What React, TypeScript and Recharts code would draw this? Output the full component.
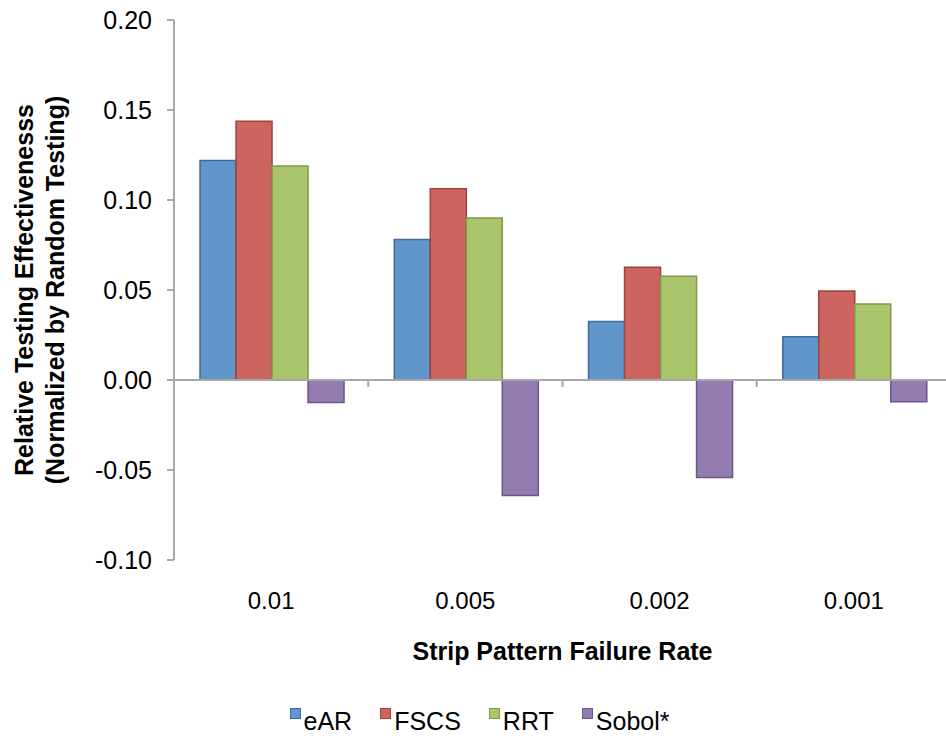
import { BarChart, Bar, XAxis, YAxis, Legend, ReferenceLine } from "recharts";

const FONT = '"Liberation Sans", Arial, Helvetica, sans-serif';
const AXIS_GRAY = "#A8A8A8";

// failure rates along the x axis
const rates = ["0.01", "0.005", "0.002", "0.001"];

// relative effectiveness per technique, one value per failure rate
const eAR = [0.122, 0.0781, 0.0325, 0.024];
const fscs = [0.1438, 0.1063, 0.0627, 0.0494];
const rrt = [0.1189, 0.09, 0.0577, 0.0422];
const sobol = [-0.0125, -0.0641, -0.0541, -0.0121];

const yTicks = [-0.1, -0.05, 0, 0.05, 0.1, 0.15, 0.2];

const series = [
  { key: "eAR", name: "eAR", fill: "#6096C9", stroke: "#41699B" },
  { key: "fscs", name: "FSCS", fill: "#CC6560", stroke: "#A2403B" },
  { key: "rrt", name: "RRT", fill: "#AAC46C", stroke: "#7E9A49" },
  { key: "sobol", name: "Sobol*", fill: "#947BB0", stroke: "#6C5490" },
];

const data = rates.map((rate, i) => ({
  rate,
  eAR: eAR[i],
  fscs: fscs[i],
  rrt: rrt[i],
  sobol: sobol[i],
}));

// zero line with the category separators hanging below it
const ZeroAxis = (props: any) => {
  const { x1, x2, y1 } = props;
  const step = (x2 - x1) / rates.length;
  return (
    <g>
      <line x1={x1} x2={x2} y1={y1} y2={y1} stroke={AXIS_GRAY} strokeWidth={2} />
      {rates.map((r, i) => (
        <line
          key={r}
          x1={x1 + step * (i + 1)}
          x2={x1 + step * (i + 1)}
          y1={y1}
          y2={y1 + 7}
          stroke={AXIS_GRAY}
          strokeWidth={2}
        />
      ))}
    </g>
  );
};

const YTitle = (props: any) => {
  const cy = props.viewBox.y + props.viewBox.height / 2;
  const style = { fontFamily: FONT, fontSize: 25, fontWeight: "bold" as const };
  return (
    <g>
      <text x={33} y={cy} transform={`rotate(-90, 33, ${cy})`} textAnchor="middle" style={style}>
        Relative Testing Effectivenesss
      </text>
      <text x={64} y={cy} transform={`rotate(-90, 64, ${cy})`} textAnchor="middle" style={style}>
        (Normalized by Random Testing)
      </text>
    </g>
  );
};

const XTitle = (props: any) => {
  const { x, y, width } = props.viewBox;
  return (
    <text
      x={x + width / 2}
      y={y + 100}
      textAnchor="middle"
      style={{ fontFamily: FONT, fontSize: 25, fontWeight: "bold" }}
    >
      Strip Pattern Failure Rate
    </text>
  );
};

const LegendRow = () => (
  <div
    style={{
      display: "flex",
      justifyContent: "center",
      height: 30,
      paddingLeft: 8,
      fontFamily: FONT,
      fontSize: 25,
      lineHeight: "30px",
    }}
  >
    {series.map((s) => (
      <div key={s.key} style={{ display: "flex", alignItems: "flex-start", margin: "0 14px" }}>
        <span
          style={{
            width: 9,
            height: 9,
            marginTop: 2,
            marginRight: 3,
            background: s.fill,
            border: `1.5px solid ${s.stroke}`,
          }}
        />
        <span>{s.name}</span>
      </div>
    ))}
  </div>
);

export default function App() {
  return (
    <div
      style={{
        position: "absolute",
        left: 0,
        top: 0,
        width: 946,
        height: 738,
        overflow: "hidden",
        background: "#fff",
      }}
    >
      <BarChart
        width={960}
        height={738}
        data={data}
        margin={{ top: 20, right: 9, left: 0, bottom: 2 }}
        barCategoryGap="13.4%"
        barGap={0}
      >
        <XAxis
          dataKey="rate"
          axisLine={false}
          tickLine={false}
          tickMargin={26}
          height={146}
          tick={{ fontSize: 24, fill: "#000", fontFamily: FONT }}
          label={<XTitle />}
        />
        <YAxis
          domain={[-0.1, 0.2]}
          ticks={yTicks}
          width={174}
          tickSize={7}
          tickMargin={15}
          tickFormatter={(v: number) => v.toFixed(2)}
          axisLine={{ stroke: AXIS_GRAY, strokeWidth: 2 }}
          tickLine={{ stroke: AXIS_GRAY, strokeWidth: 2 }}
          tick={{ fontSize: 25, fill: "#000", fontFamily: FONT }}
          label={<YTitle />}
        />
        {series.map((s) => (
          <Bar
            key={s.key}
            dataKey={s.key}
            name={s.name}
            fill={s.fill}
            stroke={s.stroke}
            strokeWidth={1.5}
            isAnimationActive={false}
          />
        ))}
        <ReferenceLine y={0} shape={<ZeroAxis />} />
        <Legend verticalAlign="bottom" content={<LegendRow />} />
      </BarChart>
    </div>
  );
}
